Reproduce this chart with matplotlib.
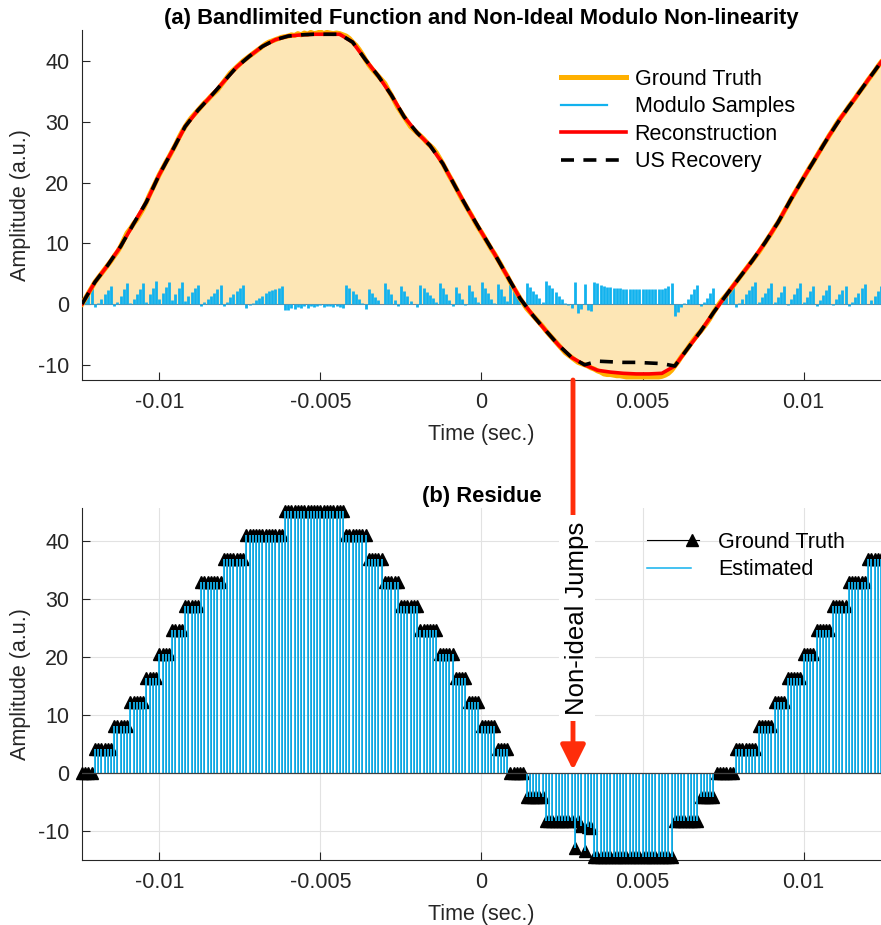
import numpy as np
import matplotlib
matplotlib.use("Agg")
import matplotlib.pyplot as plt
from matplotlib.lines import Line2D
from matplotlib.legend_handler import HandlerBase
from matplotlib.patches import FancyArrowPatch

plt.rcParams["font.family"] = ["Liberation Sans", "DejaVu Sans"]
plt.rcParams["axes.unicode_minus"] = False

# ── Sample grid (seconds) ──
t_start = -0.0124
t_step = 1e-4

# ── Ground truth bandlimited function ──
gt_vals = [
    0.0, 0.9, 1.8, 2.7, 3.6, 4.3, 5.0, 5.7, 6.4, 7.1, 7.9, 8.6, 9.5, 10.6, 11.7, 12.4, 13.2, 13.9, 14.8, 15.7,
    16.8, 18.0, 19.1, 20.2, 21.3, 22.3, 23.3, 24.2, 25.2, 26.2, 27.3, 28.3, 29.2, 30.0, 30.7, 31.3, 31.9, 32.5, 33.1, 33.6,
    34.2, 34.7, 35.2, 35.9, 36.6, 37.3, 38.0, 38.5, 39.0, 39.5, 40.0, 40.4, 40.8, 41.2, 41.6, 42.0, 42.4, 42.8, 43.1, 43.3,
    43.5, 43.7, 43.9, 44.0, 44.1, 44.3, 44.2, 44.5, 44.3, 44.6, 44.4, 44.7, 44.5, 44.6, 44.8, 44.5, 44.7, 44.6, 44.5, 44.6,
    44.5, 44.3, 44.1, 43.7, 43.1, 42.6, 41.9, 41.1, 40.2, 39.4, 38.7, 38.1, 37.5, 36.9, 36.3, 35.3, 34.4, 33.4, 32.4, 31.6,
    30.8, 30.0, 29.2, 28.7, 28.2, 27.7, 27.2, 26.6, 26.1, 25.6, 24.9, 24.0, 23.1, 22.1, 21.1, 20.2, 19.2, 18.2, 17.2, 16.3,
    15.4, 14.5, 13.5, 12.6, 11.8, 10.9, 10.0, 9.1, 8.3, 7.4, 6.5, 5.5, 4.6, 3.6, 2.7, 1.8, 0.9, 0.1, -0.7, -1.3,
    -1.9, -2.5, -3.1, -3.7, -4.4, -5.0, -5.6, -6.2, -6.8, -7.4, -8.0, -8.4, -8.8, -9.2, -9.6, -9.8, -10.0, -10.2, -10.5, -10.7,
    -11.0, -11.2, -11.5, -11.6, -11.6, -11.7, -11.8, -11.8, -11.9, -12.0, -12.0, -12.0, -12.0, -12.0, -12.0, -12.0, -12.0, -12.0, -12.0, -12.0,
    -11.9, -11.7, -11.4, -10.9, -10.2, -9.5, -8.7, -8.0, -7.3, -6.5, -5.8, -5.1, -4.5, -3.8, -3.1, -2.3, -1.4, -0.6, 0.2, 0.9,
    1.5, 2.2, 2.9, 3.6, 4.3, 5.0, 5.7, 6.4, 7.1, 7.8, 8.5, 9.3, 10.1, 10.9, 11.7, 12.6, 13.4, 14.3, 15.3, 16.2,
    17.2, 18.1, 19.0, 19.9, 20.8, 21.7, 22.6, 23.4, 24.3, 25.2, 26.1, 26.9, 27.8, 28.6, 29.5, 30.3, 31.0, 31.7, 32.5, 33.2,
    33.9, 34.7, 35.4, 36.1, 36.9, 37.6, 38.3, 39.1, 39.8,
]

# ── Residue (panel b) as run lengths: level, number of samples ──
res_levels = [0, 4.1, 8.2, 12.3, 16.4, 20.5, 24.6, 28.7, 32.8, 36.9, 41.0, 45.0,
              41.0, 36.9, 32.8, 28.7, 24.6, 20.5, 16.4, 12.3, 8.2, 4.1, 0,
              -4.1, -8.2, -12.8, -8.2, -9.0, -13.3, -9.2, -9.4, -14.4, -8.2, -4.1,
              0, 4.1, 8.2, 12.3, 16.4, 20.5, 24.6, 28.7, 32.8, 36.9]
res_counts = [4, 6, 5, 5, 4, 4, 4, 5, 7, 7, 12, 19,
              7, 5, 5, 6, 6, 5, 4, 4, 5, 4, 5,
              6, 9, 1, 1, 1, 1, 1, 1, 25, 8, 5,
              6, 7, 5, 4, 5, 4, 5, 5, 6, 5]

# ── Reconstruction and US recovery, read every 0.4 ms ──
coarse_step = 4e-4
recon_vals = [0.0, 3.6, 6.4, 9.5, 13.2, 16.8, 21.3, 25.2, 29.2, 31.9,
              34.2, 36.6, 39.0, 40.8, 42.4, 43.5, 44.1, 44.3, 44.4, 44.4,
              44.4, 43.1, 40.2, 37.5, 34.4, 30.8, 28.2, 26.1, 23.1, 19.2,
              15.4, 11.8, 8.3, 4.6, 0.9, -1.9, -4.4, -6.8, -8.8, -10.0,
              -10.9, -11.2, -11.4, -11.5, -11.5, -11.4, -10.2, -7.3, -4.5, -1.4,
              1.5, 4.3, 7.1, 10.1, 13.4, 17.2, 20.8, 24.3, 27.8, 31.0,
              33.9, 36.9, 39.8]
us_vals = [0.0, 3.6, 6.4, 9.5, 13.2, 16.8, 21.3, 25.2, 29.2, 31.9,
           34.2, 36.6, 39.0, 40.8, 42.4, 43.5, 44.1, 44.3, 44.4, 44.4,
           44.4, 43.1, 40.2, 37.5, 34.4, 30.8, 28.2, 26.1, 23.1, 19.2,
           15.4, 11.8, 8.3, 4.6, 0.9, -1.9, -4.4, -6.8, -8.8, -10.0,
           -9.4, -9.5, -9.6, -9.6, -9.7, -9.8, -10.2, -7.3, -4.5, -1.4,
           1.5, 4.3, 7.1, 10.1, 13.4, 17.2, 20.8, 24.3, 27.8, 31.0,
           33.9, 36.9, 39.8]

x_ticks = [-0.01, -0.005, 0, 0.005, 0.01]
x_tick_labels = ["-0.01", "-0.005", "0", "0.005", "0.01"]
y_ticks = [-10, 0, 10, 20, 30, 40]
y_tick_labels = ["-10", "0", "10", "20", "30", "40"]

t = t_start + t_step * np.arange(len(gt_vals))
gt = np.array(gt_vals)
residue = np.repeat(res_levels, res_counts)
mod_samples = gt - residue          # what is left after the folding
t_coarse = t_start + coarse_step * np.arange(len(recon_vals))

# ── Colours ──
ORANGE = "#FFB000"
FILL = "#FDE6B5"
CYAN = "#12B2EE"
RED = "#FF0000"
ARROW_RED = "#FF2D0A"
AX_COL = "#262626"
FS = 15.5


class ShortLine(HandlerBase):
    # plain line that only covers part of the handle box
    def __init__(self, frac=1.0, marker=None):
        super().__init__()
        self.frac = frac
        self.marker = marker

    def create_artists(self, legend, orig, xd, yd, w, h, fontsize, trans):
        y = h / 2 - yd
        x0 = -xd
        ln = Line2D([x0, x0 + w * self.frac], [y, y], color=orig.get_color(),
                    lw=orig.get_linewidth(), linestyle=orig.get_linestyle(), transform=trans)
        arts = [ln]
        if self.marker:
            mk = Line2D([x0 + w * 0.87], [y], marker=self.marker, color=orig.get_color(),
                        ms=9, ls="none", transform=trans)
            arts.append(mk)
        return arts


def style_axes(ax, ylim):
    ax.set_xlim(-0.0124, 0.0124)
    ax.set_ylim(*ylim)
    ax.set_xticks(x_ticks)
    ax.set_xticklabels(x_tick_labels)
    ax.set_yticks(y_ticks)
    ax.set_yticklabels(y_tick_labels)
    for s in ["top", "right"]:
        ax.spines[s].set_visible(False)
    for s in ["left", "bottom"]:
        ax.spines[s].set_color(AX_COL)
        ax.spines[s].set_linewidth(0.8)
    ax.tick_params(direction="in", length=6, width=0.8, colors=AX_COL,
                   labelsize=FS, pad=9)
    ax.set_xlabel("Time (sec.)", fontsize=FS, color=AX_COL)
    ax.set_ylabel("Amplitude (a.u.)", fontsize=FS, color=AX_COL)
    ax.xaxis.set_label_coords(0.5, -0.125)
    ax.yaxis.set_label_coords(-0.064, 0.5)


fig = plt.figure(figsize=(8.81, 9.25), dpi=100)
ax1 = fig.add_axes([82 / 881, 1 - 380 / 925, 799 / 881, 350 / 925])
ax2 = fig.add_axes([82 / 881, 1 - 860 / 925, 799 / 881, 352 / 925])

# ── (a) Bandlimited function and modulo samples ──
ax1.fill_between(t, gt, 0, color=FILL, lw=0, zorder=1)
ax1.axhline(0, color="#6f8596", lw=0.8, zorder=2)
ax1.vlines(t, 0, mod_samples, color=CYAN, lw=2.0, zorder=3)
ax1.plot(t, gt, color=ORANGE, lw=3.6, zorder=4)
ax1.plot(t_coarse, recon_vals, color=RED, lw=2.6, zorder=5)
ax1.plot(t_coarse, us_vals, color="k", lw=2.6, ls=(0, (3.6, 2.6)), zorder=6)
style_axes(ax1, (-12.5, 45.1))
ax1.set_title("(a) Bandlimited Function and Non-Ideal Modulo Non-linearity",
              fontsize=15.8, fontweight="bold", pad=4)

h_gt = Line2D([], [], color=ORANGE, lw=3.6)
h_mod = Line2D([], [], color=CYAN, lw=1.6)
h_rec = Line2D([], [], color=RED, lw=2.6)
h_us = Line2D([], [], color="k", lw=2.6, ls=(0, (3.6, 2.6)))
ax1.legend([h_gt, h_mod, h_rec, h_us],
           ["Ground Truth", "Modulo Samples", "Reconstruction", "US Recovery"],
           handler_map={h_mod: ShortLine(0.7)},
           loc="upper left", bbox_to_anchor=(0.60, 0.889), frameon=False,
           fontsize=FS, handlelength=3.0, handletextpad=0.4, labelspacing=0.3,
           borderpad=0, borderaxespad=0)

# ── (b) Residue ──
ax2.grid(True, color="#e2e2e2", lw=0.8)
ax2.set_axisbelow(True)
ax2.vlines(t, 0, residue, color="k", lw=0.6, zorder=2)
ax2.plot(t, residue, "^", color="k", ms=8, zorder=3, clip_on=False)
ax2.vlines(t, 0, residue, color=CYAN, lw=1.3, zorder=4)
ax2.axhline(0, color="#404040", lw=0.9, zorder=5)
style_axes(ax2, (-14.9, 45.6))
ax2.set_title("(b) Residue", fontsize=15.8, fontweight="bold", pad=4)

g_gt = Line2D([], [], color="k", lw=0.8)
g_est = Line2D([], [], color=CYAN, lw=1.1)
ax2.legend([g_gt, g_est], ["Ground Truth", "Estimated"],
           handler_map={g_gt: ShortLine(1.0, marker="^"), g_est: ShortLine(0.85)},
           loc="upper left", bbox_to_anchor=(0.707, 0.932), frameon=False,
           fontsize=FS, handlelength=2.4, handletextpad=0.9, labelspacing=0.3,
           borderpad=0, borderaxespad=0)

# ── Non-ideal jumps arrow running from panel (a) into panel (b) ──
xa = 573 / 881
arrow = FancyArrowPatch((xa, 1 - 380 / 925), (xa, 1 - 770 / 925),
                        transform=fig.transFigure,
                        arrowstyle="-|>,head_length=1.0,head_width=0.5",
                        mutation_scale=15, color=ARROW_RED, lw=3.5,
                        shrinkA=0, shrinkB=0, zorder=3)
fig.add_artist(arrow)
fig.text(577 / 881, 1 - 618 / 925, "Non-ideal Jumps", rotation=90,
         ha="center", va="center", fontsize=18.5, zorder=6,
         bbox=dict(boxstyle="square,pad=0.25", fc="white", ec="none"))

fig.savefig("out.png", dpi=100)
